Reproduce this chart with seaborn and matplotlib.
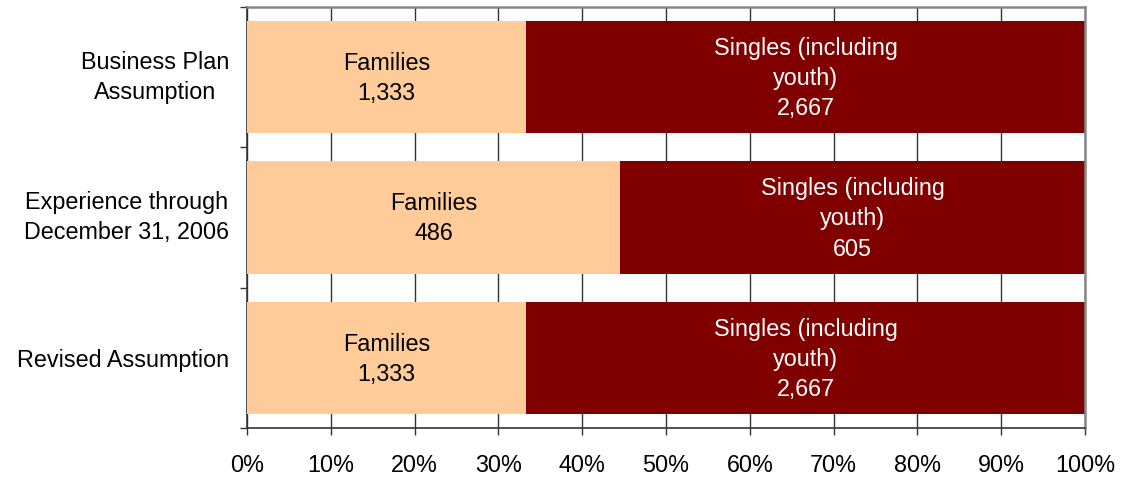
import matplotlib
matplotlib.use("Agg")
import matplotlib.pyplot as plt
from matplotlib.ticker import PercentFormatter, FixedLocator
import seaborn as sns
import pandas as pd

# Household mix by scenario
scenarios = ["Business Plan\nAssumption", "Experience through\nDecember 31, 2006", "Revised Assumption"]
families = [1333, 486, 1333]
singles = [2667, 605, 2667]
family_label = "Families"
single_label = "Singles (including\nyouth)"

fam_color = "#FFCC99"
single_color = "#800000"

totals = [f + s for f, s in zip(families, singles)]
fam_pct = [100 * f / t for f, t in zip(families, totals)]
single_pct = [100 * s / t for s, t in zip(singles, totals)]
df = pd.DataFrame({
    "scenario": scenarios,
    "fam_pct": fam_pct,
    "stack_top": [f + s for f, s in zip(fam_pct, single_pct)],
})

sns.set_style("white")
plt.rcParams["font.family"] = ["Liberation Sans", "DejaVu Sans"]
plt.rcParams["text.color"] = "black"
plt.rcParams["xtick.labelcolor"] = "black"
plt.rcParams["ytick.labelcolor"] = "black"
FS = 16.8
LS = 1.4

fig, ax = plt.subplots(figsize=(11.26, 4.78), dpi=100)
fig.subplots_adjust(left=0.2194, right=0.9636, top=0.9854, bottom=0.1046)

# Stacked horizontal bars: full-length singles bar with families segment laid over it
sns.barplot(data=df, y="scenario", x="stack_top", color=single_color, orient="h",
            width=0.8, saturation=1, ax=ax, linewidth=0, zorder=2)
sns.barplot(data=df, y="scenario", x="fam_pct", color=fam_color, orient="h",
            width=0.8, saturation=1, ax=ax, linewidth=0, zorder=3)

for i, (fp, sp, f, s) in enumerate(zip(fam_pct, single_pct, families, singles)):
    ax.text(fp / 2, i + 0.01, f"{family_label}\n{f:,}", ha="center", va="center",
            fontsize=FS, color="black", linespacing=LS, zorder=4)
    ax.text(fp + sp / 2, i + 0.01, f"{single_label}\n{s:,}", ha="center", va="center",
            fontsize=FS, color="white", linespacing=LS, zorder=4)

ax.set_xlim(0, 100)
ax.set_ylim(2.5, -0.5)
ax.set_xlabel("")
ax.set_ylabel("")

ax.xaxis.set_major_locator(FixedLocator(range(0, 101, 10)))
ax.xaxis.set_major_formatter(PercentFormatter(xmax=100, decimals=0))
ax.grid(axis="x", color="#333333", linewidth=1.0)
ax.grid(axis="y", visible=False)
ax.set_axisbelow(True)

ax.tick_params(axis="x", direction="out", length=5, width=1, color="#333333",
               labelsize=FS, pad=14, bottom=True)
ax.tick_params(axis="y", which="major", length=0, labelsize=FS, pad=13, left=True)
ax.set_yticks([-0.5, 0.5, 1.5, 2.5], minor=True)
ax.tick_params(axis="y", which="minor", direction="out", length=5, width=1,
               color="#333333", left=True)
for lbl in ax.get_yticklabels():
    lbl.set_multialignment("center")
    lbl.set_linespacing(LS)
    if "\n" in lbl.get_text():
        lbl.set_verticalalignment("center")

for side in ("left", "bottom"):
    ax.spines[side].set_color("#333333")
    ax.spines[side].set_linewidth(1.2)
for side in ("top", "right"):
    ax.spines[side].set_visible(True)
    ax.spines[side].set_color("#888888")
    ax.spines[side].set_linewidth(1.8)

fig.savefig("out.png", dpi=100)
